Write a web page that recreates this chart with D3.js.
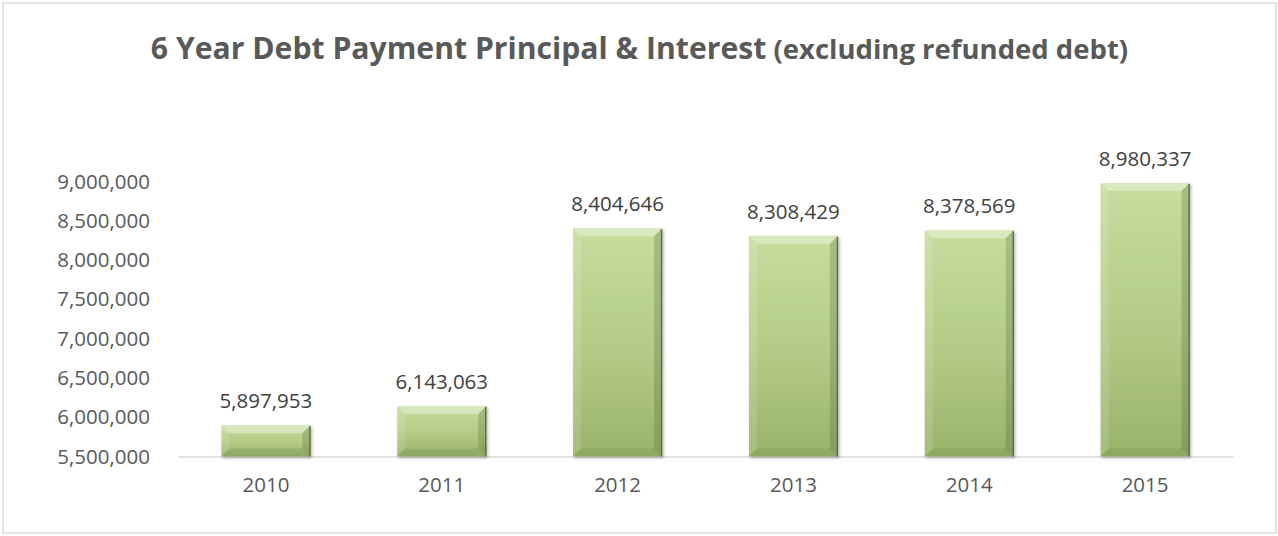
<!DOCTYPE html>
<html>
<head>
<meta charset="utf-8">
<script src="https://cdn.jsdelivr.net/npm/d3@7"></script>
<style>
  html, body { margin: 0; padding: 0; background: #fff; }
  svg { display: block; }
  text { font-family: "Open Sans", "Noto Sans", sans-serif; }
</style>
</head>
<body>
<svg id="chart" width="1278" height="536"></svg>
<script>
// Annual debt payments (principal & interest), excluding refunded debt
const years = ["2010", "2011", "2012", "2013", "2014", "2015"];
const payments = [5897953, 6143063, 8404646, 8308429, 8378569, 8980337];
const yTicks = [5500000, 6000000, 6500000, 7000000, 7500000, 8000000, 8500000, 9000000];
const titleMain = "6 Year Debt Payment Principal & Interest";
const titleSub = "(excluding refunded debt)";

const svg = d3.select("#chart");
const fmt = d3.format(",");

// chart frame
svg.append("rect")
  .attr("x", 3).attr("y", 3).attr("width", 1273).attr("height", 530)
  .attr("fill", "#fff").attr("stroke", "#d9d9d9").attr("stroke-width", 1.5);

// title: bold main text followed by a smaller bold note, centred on the frame
const title = svg.append("text")
  .attr("x", 639.5).attr("y", 59)
  .attr("text-anchor", "middle")
  .attr("fill", "#595959").attr("font-weight", "bold");
const tMain = title.append("tspan").text(titleMain).attr("font-size", 100);
const tSub = title.append("tspan").text(" " + titleSub).attr("font-size", 100);
// size each part so it spans its intended width
const mainW = tMain.node().getComputedTextLength();
const subW = tSub.node().getComputedTextLength();
tMain.attr("font-size", 100 * 616 / mainW);
tSub.attr("font-size", 100 * 362 / subW);

// scales
const x = d3.scaleBand().domain(years).range([178, 1233]).paddingInner(0).paddingOuter(0);
const y = d3.scaleLinear().domain([5500000, 9000000]).range([456.5, 181.5]);
const barW = x.bandwidth() * 0.506;

// y axis (labels only)
const yAxis = svg.append("g")
  .attr("transform", "translate(156,0)")
  .call(d3.axisLeft(y).tickValues(yTicks).tickFormat(fmt).tickSize(0).tickPadding(6));
yAxis.select(".domain").remove();
yAxis.selectAll("text")
  .attr("font-size", 20.5).attr("fill", "#595959")
  .attr("font-family", "'Open Sans', sans-serif");

// x axis: baseline plus year labels
const xAxis = svg.append("g")
  .attr("transform", `translate(0,${y(5500000)})`)
  .call(d3.axisBottom(x).tickSize(0).tickPadding(21));
xAxis.select(".domain").attr("stroke", "#d9d9d9").attr("stroke-width", 1.5);
xAxis.selectAll("text")
  .attr("font-size", 20.5).attr("fill", "#595959")
  .attr("font-family", "'Open Sans', sans-serif");

// bar gradient and bevel colours
const defs = svg.append("defs");
const grad = defs.append("linearGradient").attr("id", "barFill")
  .attr("x1", 0).attr("y1", 0).attr("x2", 0).attr("y2", 1);
grad.append("stop").attr("offset", "0%").attr("stop-color", "#c6dd9e");
grad.append("stop").attr("offset", "55%").attr("stop-color", "#b2ca85");
grad.append("stop").attr("offset", "100%").attr("stop-color", "#9ab36b");

const shadow = defs.append("filter").attr("id", "barShadow")
  .attr("x", "-10%").attr("y", "-10%").attr("width", "130%").attr("height", "130%");
shadow.append("feDropShadow").attr("dx", 1.5).attr("dy", 1.5).attr("stdDeviation", 1.5)
  .attr("flood-color", "#000").attr("flood-opacity", 0.3);

const data = years.map((yr, i) => ({ year: yr, value: payments[i] }));

const bars = svg.append("g").selectAll("g.bar").data(data).join("g").attr("class", "bar");

bars.each(function (d) {
  const g = d3.select(this);
  const x0 = x(d.year) + (x.bandwidth() - barW) / 2;
  const x1 = x0 + barW;
  const y0 = y(d.value);
  const y1 = y(5500000);
  const b = Math.min(8, (y1 - y0) / 2.5);

  g.append("rect")
    .attr("x", x0).attr("y", y0).attr("width", barW).attr("height", y1 - y0)
    .attr("fill", "url(#barFill)").attr("filter", "url(#barShadow)");

  const poly = (pts, fill, op) => g.append("polygon")
    .attr("points", pts.map(p => p.join(",")).join(" "))
    .attr("fill", fill).attr("fill-opacity", op);

  // top bevel (highlight)
  poly([[x0, y0], [x1, y0], [x1 - b, y0 + b], [x0 + b, y0 + b]], "#ffffff", 0.35);
  // left bevel
  poly([[x0, y0], [x0 + b, y0 + b], [x0 + b, y1 - b], [x0, y1]], "#ffffff", 0.12);
  // right bevel (shade)
  poly([[x1, y0], [x1, y1], [x1 - b, y1 - b], [x1 - b, y0 + b]], "#3d5220", 0.22);
  // bottom bevel
  poly([[x0, y1], [x1, y1], [x1 - b, y1 - b], [x0 + b, y1 - b]], "#3d5220", 0.12);

  // thin dark edge on the right side
  g.append("line")
    .attr("x1", x1 - 0.5).attr("x2", x1 - 0.5).attr("y1", y0 + 1).attr("y2", y1)
    .attr("stroke", "#5f7340").attr("stroke-width", 1.5);
});

// value labels above bars
svg.append("g").selectAll("text").data(data).join("text")
  .attr("x", d => x(d.year) + x.bandwidth() / 2)
  .attr("y", d => y(d.value) - 17)
  .attr("text-anchor", "middle")
  .attr("font-size", 20.5).attr("fill", "#404040")
  .text(d => fmt(d.value));
</script>
</body>
</html>
